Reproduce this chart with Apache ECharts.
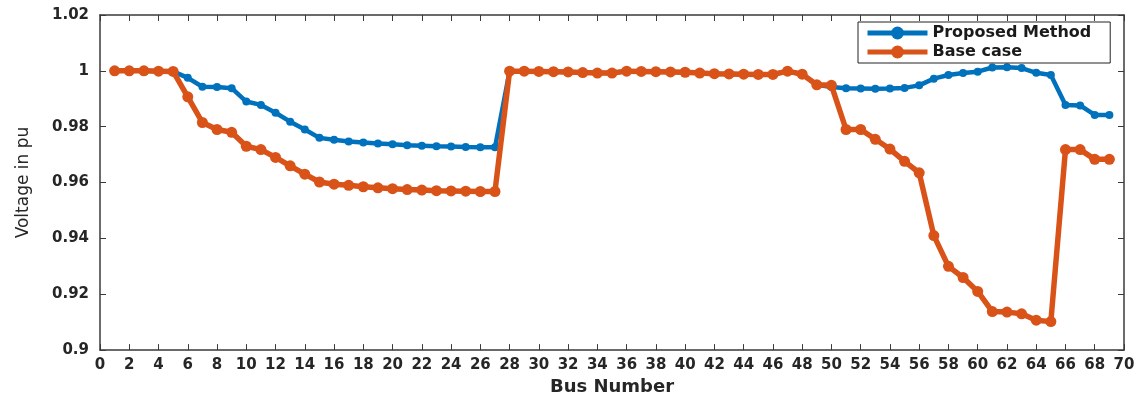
<!DOCTYPE html>
<html>
<head>
<meta charset="utf-8">
<script src="https://cdn.jsdelivr.net/npm/echarts@6/dist/echarts.min.js"></script>
<style>
html,body{margin:0;padding:0;background:#fff;}
#chart{width:1142px;height:401px;}
</style>
</head>
<body>
<div id="chart"></div>
<script>
const buses = [1,2,3,4,5,6,7,8,9,10,11,12,13,14,15,16,17,18,19,20,21,22,23,24,25,26,27,28,29,30,31,32,33,34,35,36,37,38,39,40,41,42,43,44,45,46,47,48,49,50,51,52,53,54,55,56,57,58,59,60,61,62,63,64,65,66,67,68,69];

const proposedMethod = [1.0,1.0,1.0,0.9999,0.9998,0.9975,0.9943,0.9942,0.9938,0.989,
  0.9878,0.985,0.9818,0.979,0.976,0.9753,0.9747,0.9743,0.974,0.9737,
  0.9734,0.9732,0.973,0.9729,0.9727,0.9726,0.9726,0.9999,0.9999,0.9998,
  0.9997,0.9996,0.9994,0.9992,0.9992,0.9999,0.9998,0.9997,0.9996,0.9995,
  0.9992,0.999,0.9989,0.9988,0.9987,0.9987,0.9999,0.9988,0.995,0.9942,
  0.9938,0.9937,0.9936,0.9937,0.9939,0.9948,0.9972,0.9985,0.9992,0.9997,
  1.0012,1.0013,1.001,0.9993,0.9985,0.9878,0.9876,0.9842,0.9842];

const baseCase = [1.0,1.0,1.0,0.9999,0.9998,0.9907,0.9815,0.979,0.978,0.973,
  0.9718,0.969,0.966,0.963,0.9602,0.9594,0.959,0.9585,0.9581,0.9578,
  0.9575,0.9573,0.9571,0.957,0.9569,0.9568,0.9568,0.9999,0.9999,0.9998,
  0.9997,0.9996,0.9994,0.9992,0.9992,0.9999,0.9998,0.9997,0.9996,0.9995,
  0.9992,0.999,0.9989,0.9988,0.9987,0.9987,0.9999,0.9988,0.995,0.9948,
  0.979,0.979,0.9755,0.972,0.9676,0.9635,0.941,0.930,0.926,0.921,
  0.9138,0.9136,0.913,0.9107,0.9102,0.9718,0.9718,0.9683,0.9683];

const seriesNames = ['Proposed Method', 'Base case'];
const xTitle = 'Bus Number';
const yTitle = 'Voltage in pu';

const pairs = vals => buses.map((b, i) => [b, vals[i]]);

const axisColor = '#3a3a3a';
const labelColor = '#262626';
const tickFont = {color: labelColor, fontFamily: 'DejaVu Sans', fontWeight: 'bold', fontSize: 15};

const chart = echarts.init(document.getElementById('chart'), null, {renderer: 'canvas'});
chart.setOption({
  backgroundColor: '#fff',
  animation: false,
  grid: {left: 100, right: 18, top: 15, bottom: 49, containLabel: false},
  legend: {
    data: [
      {name: seriesNames[0], lineStyle: {width: 5}},
      {name: seriesNames[1], lineStyle: {width: 5}}
    ],
    orient: 'vertical',
    left: 858,
    top: 22,
    itemWidth: 60,
    itemHeight: 16,
    itemGap: 3,
    padding: [3, 19, 3, 7],
    backgroundColor: '#fff',
    borderColor: '#222',
    borderWidth: 1,
    borderRadius: 0,
    textStyle: {color: '#1a1a1a', fontFamily: 'DejaVu Sans', fontWeight: 'bold', fontSize: 16}
  },
  xAxis: [{
    type: 'value', min: 0, max: 70, interval: 2,
    name: xTitle, nameLocation: 'middle', nameGap: 27,
    nameTextStyle: {color: labelColor, fontFamily: 'DejaVu Sans', fontWeight: 'bold', fontSize: 18},
    axisLine: {show: true, lineStyle: {color: axisColor, width: 1.5}},
    axisTick: {show: true, inside: true, length: 6, lineStyle: {color: axisColor}},
    axisLabel: Object.assign({margin: 8}, tickFont),
    splitLine: {show: false}
  }, {
    type: 'value', min: 0, max: 70, interval: 2, position: 'top',
    axisLine: {show: true, onZero: false, lineStyle: {color: axisColor, width: 1.5}},
    axisTick: {show: true, inside: true, length: 6, lineStyle: {color: axisColor}},
    axisLabel: {show: false},
    splitLine: {show: false}
  }],
  yAxis: [{
    type: 'value', min: 0.9, max: 1.02, interval: 0.02,
    name: yTitle, nameLocation: 'middle', nameGap: 68, nameRotate: 90,
    nameTextStyle: {color: labelColor, fontFamily: 'DejaVu Sans', fontSize: 17},
    axisLine: {show: true, onZero: false, lineStyle: {color: axisColor, width: 1.5}},
    axisTick: {show: true, inside: true, length: 6, lineStyle: {color: axisColor}},
    axisLabel: Object.assign({margin: 11, formatter: v => String(parseFloat(v.toFixed(2)))}, tickFont),
    splitLine: {show: false}
  }, {
    type: 'value', min: 0.9, max: 1.02, interval: 0.02, position: 'right',
    axisLine: {show: true, onZero: false, lineStyle: {color: axisColor, width: 1.5}},
    axisTick: {show: true, inside: true, length: 6, lineStyle: {color: axisColor}},
    axisLabel: {show: false},
    splitLine: {show: false}
  }],
  series: [{
    name: seriesNames[0], type: 'line', data: pairs(proposedMethod),
    xAxisIndex: 0, yAxisIndex: 0,
    symbol: 'circle', symbolSize: 8,
    lineStyle: {color: '#0072BD', width: 4.5},
    itemStyle: {color: '#0072BD'},
    z: 2
  }, {
    name: seriesNames[1], type: 'line', data: pairs(baseCase),
    xAxisIndex: 0, yAxisIndex: 0,
    symbol: 'circle', symbolSize: 11,
    lineStyle: {color: '#D95319', width: 5.5},
    itemStyle: {color: '#D95319'},
    z: 3
  }]
});
</script>
</body>
</html>
